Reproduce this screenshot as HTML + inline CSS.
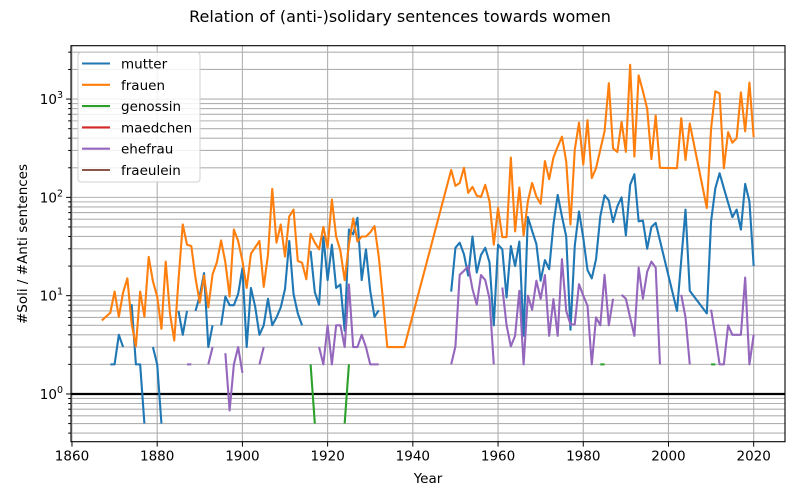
<!DOCTYPE html>
<html><head><meta charset="utf-8"><style>
body{margin:0;background:#fff}
svg{display:block;font-family:"DejaVu Sans","Liberation Sans",sans-serif}
</style></head><body>
<svg id="chart" width="800" height="500" viewBox="0 0 800 500" xmlns="http://www.w3.org/2000/svg">
<text x="400" y="22" font-size="16" text-anchor="middle">Relation of (anti-)solidary sentences towards women</text>
<text x="428" y="483" font-size="13.5" text-anchor="middle">Year</text>
<text transform="translate(27,244) rotate(-90)" font-size="13.5" text-anchor="middle">#Soli / #Anti sentences</text>
<g id="grid"></g>
<g id="series"></g>
<g id="axes"></g>
<g id="legend"></g>
</svg>
<script>
const mutterYears=[1869,1870,1871,1872,1873,1874,1875,1876,1877,1878,1879,1880,1881,1882,1885,1886,1887,1888,1889,1890,1891,1892,1893,1894,1895,1896,1897,1898,1899,1900,1901,1902,1903,1904,1905,1906,1907,1908,1909,1910,1911,1912,1913,1914,1915,1916,1917,1918,1919,1920,1921,1922,1923,1924,1925,1926,1927,1928,1929,1930,1931,1932,1933,1949,1950,1951,1952,1953,1954,1955,1956,1957,1958,1959,1960,1961,1962,1963,1964,1965,1966,1967,1968,1969,1970,1971,1972,1973,1974,1975,1976,1977,1978,1979,1980,1981,1982,1983,1984,1985,1986,1987,1988,1989,1990,1991,1992,1993,1994,1995,1996,1997,2002,2004,2005,2009,2010,2011,2012,2013,2014,2015,2016,2017,2018,2019,2020];
const mutterValues=[2,2,4,3,null,8.2,2,2,0.5,null,3,2,0.5,null,7,4,7,null,7,10,17,3,5,null,5,9.8,8,8,10.4,19,3,12,7.7,4,5,9.3,5,6,7.6,11.7,36,10.4,6.6,5,null,28.6,10.8,8.1,40,14.4,33,12,13,4.4,47,42,62,14.4,29.6,11.2,6.1,7.1,null,11,30.7,34.6,26.4,16,40,17.2,26,30.7,21.8,5,33,29.6,9.6,32,20,35.5,3.9,63,45.5,33.5,14.2,23,18.6,53,106,64,40,4.5,32,72,38.7,18.2,15,23.5,64,105,93,56,81,100,41,134,172,57,58,30,50,55,7,75,11.2,6.6,57,124,176,124,88,63,75,47,137,91,20];
const frauenYears=[1867,1869,1870,1871,1872,1873,1874,1875,1876,1877,1878,1879,1880,1881,1882,1883,1884,1885,1886,1887,1888,1889,1890,1891,1892,1893,1894,1895,1896,1897,1898,1899,1900,1901,1902,1903,1904,1905,1906,1907,1908,1909,1910,1911,1912,1913,1914,1915,1916,1917,1918,1919,1920,1921,1922,1923,1924,1925,1926,1927,1928,1929,1930,1931,1932,1933,1934,1938,1949,1950,1951,1952,1953,1954,1955,1956,1957,1958,1959,1960,1961,1962,1963,1964,1965,1966,1967,1968,1969,1970,1971,1972,1973,1974,1975,1976,1977,1978,1979,1980,1981,1982,1983,1984,1985,1986,1987,1988,1989,1990,1991,1992,1993,1994,1995,1996,1997,1998,2002,2003,2004,2005,2009,2010,2011,2012,2013,2014,2015,2016,2017,2018,2019,2020];
const frauenValues=[5.6,6.7,11,6.1,10.8,15,5.2,3.05,11,6.1,24.8,14,9.8,4.6,22.2,6.6,3.5,14.4,53,33,32,15,8.5,16,7.6,16.5,21.8,36.5,21.8,9.8,47,36,22.6,12,26.7,31,36,12.3,26,122,34.6,53,25,64,75,22.6,21.6,14.7,42.6,34.6,29.6,50,30.7,95,40,28.6,14.4,33,61,35.5,40,40,44,51,25,9,3,3,190,131,140,200,111,128,104,101,134,91,33,78,39.5,39.5,254,45,126,41,91,140,102,86,234,153,254,328,414,232,53,304,575,216,610,157,198,305,470,1450,315,290,585,290,2230,260,1740,1200,800,245,680,200,198,640,240,565,78,500,1200,1140,198,460,360,400,1170,470,1470,410];
const genossinYears=[1916,1917,1918,1924,1925,1926,1984,1985,1986,2010,2011];
const genossinValues=[2,0.5,null,0.5,2,null,2,2,null,2,2];
const maedchenYears=[];
const maedchenValues=[];
const ehefrauYears=[1887,1888,1889,1892,1893,1894,1896,1897,1898,1899,1900,1901,1904,1905,1906,1918,1919,1920,1921,1922,1923,1924,1925,1926,1927,1928,1929,1930,1931,1932,1933,1949,1950,1951,1952,1953,1954,1955,1956,1957,1958,1959,1960,1961,1962,1963,1964,1965,1966,1967,1968,1969,1970,1971,1972,1973,1974,1975,1976,1977,1978,1979,1980,1981,1982,1983,1984,1985,1986,1987,1988,1989,1990,1991,1992,1993,1994,1995,1996,1997,1998,1999,2003,2004,2005,2006,2010,2011,2012,2013,2014,2015,2016,2017,2018,2019,2020];
const ehefrauValues=[2,2,null,2,3,null,2.6,0.68,2,3,1.64,null,2,3,null,3,2,5,2,5,5,3,13,3,3,4,3,2,2,2,null,2,3.05,16.3,17.9,20,11.7,8.1,16.2,14.4,9.3,2,null,12.1,5,3.05,3.9,11.2,2,10,7.2,14.2,9.3,16.2,3.9,9.2,3.9,23.5,7,5.1,5.1,13.1,10,7.9,2,6,5,16.3,5,9.3,null,10.2,9.3,6,3.9,19.3,9.3,17.5,22.2,19.3,2,null,10.2,6,2,null,7.2,3.9,2,2,5,4,4,4,15.3,2,4];
const fraeuleinYears=[];
const fraeuleinValues=[];
const xTicks=[1860,1880,1900,1920,1940,1960,1980,2000,2020];
const yDecades=[0,1,2,3];
const seriesNames=["mutter","frauen","genossin","maedchen","ehefrau","fraeulein"];
const seriesColors=["#1f77b4","#ff7f0e","#2ca02c","#d62728","#9467bd","#8c564b"];

const NS="http://www.w3.org/2000/svg";
const L=71,R=785,T=45.7,B=441.7;
const XMIN=1859.77,XMAX=2027.35,YMIN=Math.log10(0.327),YMAX=Math.log10(3490);
function xs(v){return L+(v-XMIN)/(XMAX-XMIN)*(R-L);}
function ys(v){return B-(Math.log10(v)-YMIN)/(YMAX-YMIN)*(B-T);}
function mk(tag,attrs,parent){const e=document.createElementNS(NS,tag);for(const k in attrs)e.setAttribute(k,attrs[k]);parent.appendChild(e);return e;}
const grid=document.getElementById('grid'),axes=document.getElementById('axes'),ser=document.getElementById('series'),leg=document.getElementById('legend');
const defs=mk('defs',{},document.getElementById('chart'));
const cp=mk('clipPath',{id:'clip'},defs);mk('rect',{x:L,y:T,width:R-L,height:B-T},cp);

// y grid + ticks
for(let d=-1;d<=3;d++){
  for(let m=1;m<=9;m++){
    const v=m*Math.pow(10,d);
    if(v<0.327||v>3490)continue;
    const y=ys(v);
    const gl=mk('line',{x1:L,x2:R,y1:y,y2:y,stroke:'#b0b0b0','stroke-width':1.1},grid);
    
    
    const tk=mk('line',{x1:L,x2:L-(m===1?4.9:2.8),y1:y,y2:y,stroke:'#000','stroke-width':1},axes);
    
    
  }
}
yDecades.forEach(d=>{
  const y=ys(Math.pow(10,d));
  const t=mk('text',{x:L-8,y:y+5,'font-size':13.5,'text-anchor':'end'},axes);
  
  
  const a=mk('tspan',{},t);a.textContent='10';
  const b=mk('tspan',{dy:-6,'font-size':9.5},t);b.textContent=String(d);
});
// x grid + ticks
xTicks.forEach(v=>{
  const x=xs(v);
  const gl=mk('line',{x1:x,x2:x,y1:T,y2:B,stroke:'#b0b0b0','stroke-width':1.1},grid);
  
  
  const tk=mk('line',{x1:x,x2:x,y1:B,y2:B+4.9,stroke:'#000','stroke-width':1},axes);
  
  
  const t=mk('text',{x:x,y:B+19,'font-size':13.5,'text-anchor':'middle'},axes);
  
  
  t.textContent=String(v);
});
// reference line at 1
const ref=mk('line',{x1:L,x2:R,y1:ys(1),y2:ys(1),stroke:'#000','stroke-width':2.2},ser);



const allYears=[mutterYears,frauenYears,genossinYears,maedchenYears,ehefrauYears,fraeuleinYears];
const allVals=[mutterValues,frauenValues,genossinValues,maedchenValues,ehefrauValues,fraeuleinValues];
allYears.forEach((yrs,i)=>{
  let d='',pen=false;
  yrs.forEach((yr,j)=>{
    const v=allVals[i][j];
    if(v==null){pen=false;return;}
    d+=(pen?'L':'M')+xs(yr).toFixed(2)+','+ys(v).toFixed(2);pen=true;
  });
  const p=mk('path',{d:d||'M0,0','fill':'none',stroke:seriesColors[i],'stroke-width':2.1,'stroke-linejoin':'round','clip-path':'url(#clip)'},ser);
  
  
});
// frame
const fr=mk('rect',{x:L,y:T,width:R-L,height:B-T,fill:'none',stroke:'#000','stroke-width':1.1},axes);


// legend
const lb=mk('rect',{x:78,y:52.5,width:122,height:129.5,rx:3,fill:'#fff','fill-opacity':0.85,stroke:'#d0d0d0','stroke-width':1},leg);


seriesNames.forEach((n,i)=>{
  const y=63.5+i*21.3;
  const g=mk('g',{},leg);
  
  
  mk('line',{x1:82,x2:110,y1:y,y2:y,stroke:seriesColors[i],'stroke-width':2.1},g);
  const t=mk('text',{x:121,y:y+5,'font-size':13.5},g);
  t.textContent=n;
});
</script>
</body></html>
